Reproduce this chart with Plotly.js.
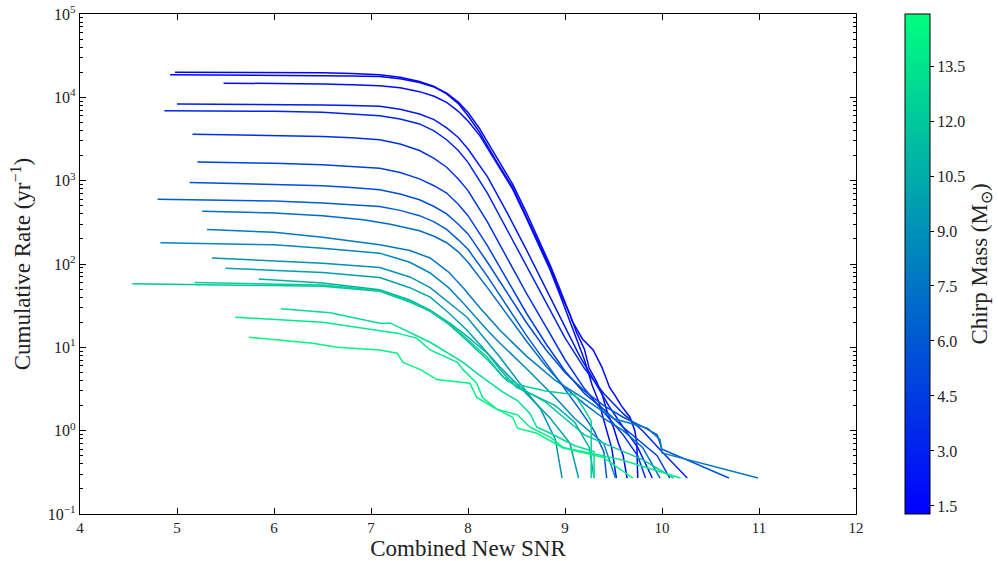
<!DOCTYPE html>
<html><head><meta charset="utf-8">
<script src="https://cdn.plot.ly/plotly-3.0.1.min.js"></script>
<style>html,body{margin:0;padding:0;background:#fff}#chart{width:998px;height:561px}</style>
</head><body><div id="chart"></div>
<script>
// Chirp mass of each curve (solar masses)
const chirpMass = [1.4, 1.6, 2.0, 2.6, 3.2, 3.9, 4.7, 5.5, 6.2, 7.0, 7.8, 8.5, 9.2, 9.9, 10.7, 12.4, 12.0, 13.2, 13.8, 14.5];

const snr1 = [4.98, 6.0, 6.5, 6.8, 7.09, 7.3, 7.5, 7.65, 7.78, 7.9, 8.0, 8.12, 8.3, 8.46, 8.6, 8.71, 8.85, 8.95, 9.05, 9.12, 9.2, 9.25, 9.32, 9.38, 9.44, 9.5, 9.55, 9.6, 9.64];
const rate1 = [20000, 19900, 19700, 19300, 18600, 17400, 15500, 13500, 11000, 8400, 6000, 3800, 1660, 830, 380, 200, 89, 45, 25, 15, 9.5, 5.6, 4.0, 2.8, 1.6, 1.1, 0.71, 0.5, 0.27];
const snr2 = [4.93, 6.0, 6.5, 6.8, 7.09, 7.3, 7.5, 7.65, 7.78, 7.9, 8.0, 8.12, 8.3, 8.46, 8.6, 8.71, 8.85, 8.95, 9.08, 9.18, 9.29, 9.38, 9.46, 9.52, 9.58, 9.67, 9.72, 9.74, 9.75];
const rate2 = [18700, 18500, 18200, 18000, 17800, 16700, 15100, 13300, 11200, 8800, 6600, 4200, 1860, 910, 420, 220, 95, 49, 20, 12.6, 9.3, 5.8, 3.3, 2.6, 2.0, 1.45, 1.0, 0.71, 0.27];
const snr3 = [5.48, 6.0, 6.5, 6.8, 7.09, 7.3, 7.5, 7.65, 7.78, 7.9, 8.0, 8.12, 8.3, 8.46, 8.6, 8.71, 8.85, 8.95, 9.05, 9.12, 9.2, 9.28, 9.35, 9.42, 9.48, 9.53];
const rate3 = [14800, 14700, 14500, 14200, 13800, 13000, 11700, 10300, 8700, 6800, 5200, 3500, 1580, 790, 360, 190, 83, 42, 21, 12.6, 7.1, 3.5, 2.2, 1.1, 0.63, 0.27];
const snr4 = [5.0, 6.0, 6.5, 6.8, 7.09, 7.3, 7.5, 7.65, 7.78, 7.9, 8.0, 8.2, 8.4, 8.6, 8.8, 9.0, 9.15, 9.3, 9.45, 9.6, 9.75, 9.9];
const rate4 = [8300, 8250, 8100, 8000, 7800, 7200, 6300, 5400, 4300, 3300, 2400, 1120, 420, 150, 52, 18, 7.9, 4.0, 2.0, 1.1, 0.63, 0.27];
const snr5 = [4.87, 6.0, 6.5, 6.8, 7.09, 7.3, 7.5, 7.65, 7.78, 7.9, 8.0, 8.2, 8.4, 8.6, 8.8, 9.0, 9.2, 9.4, 9.6, 9.8, 10.0, 10.26];
const rate5 = [6900, 6800, 6600, 6350, 6000, 5500, 4800, 3950, 3100, 2300, 1660, 710, 260, 95, 35, 13, 5.6, 2.8, 1.6, 1.0, 0.56, 0.27];
const snr6 = [5.16, 6.0, 6.5, 6.8, 7.09, 7.3, 7.5, 7.65, 7.78, 7.9, 8.0, 8.2, 8.4, 8.6, 8.8, 9.0, 9.2, 9.4, 9.6, 9.75, 9.83];
const rate6 = [3600, 3500, 3400, 3280, 3100, 2750, 2300, 1850, 1450, 1050, 760, 320, 120, 45, 18, 7.1, 3.2, 1.66, 0.89, 0.5, 0.27];
const snr7 = [5.21, 6.0, 6.5, 6.8, 7.09, 7.3, 7.5, 7.65, 7.78, 7.9, 8.0, 8.2, 8.4, 8.6, 8.8, 9.0, 9.2, 9.4, 9.6, 9.8, 9.95, 10.08];
const rate7 = [1670, 1620, 1550, 1480, 1410, 1250, 1050, 870, 710, 520, 380, 166, 66, 26, 11.2, 5.2, 2.8, 1.8, 1.1, 0.71, 0.5, 0.27];
const snr8 = [5.13, 6.0, 6.5, 6.8, 7.09, 7.3, 7.5, 7.65, 7.78, 7.9, 8.0, 8.2, 8.4, 8.6, 8.8, 9.0, 9.2, 9.4, 9.6, 9.8, 9.95, 10.0, 10.69];
const rate8 = [950, 910, 870, 830, 780, 690, 590, 490, 400, 300, 230, 105, 45, 20, 9.5, 5.0, 3.0, 2.0, 1.45, 1.12, 0.89, 0.6, 0.27];
const snr9 = [4.8, 6.0, 6.5, 6.8, 7.09, 7.3, 7.5, 7.65, 7.78, 7.9, 8.0, 8.2, 8.4, 8.6, 8.8, 9.0, 9.15, 9.3, 9.4, 9.43];
const rate9 = [600, 570, 540, 515, 490, 440, 380, 320, 260, 195, 150, 71, 32, 14, 6.6, 3.2, 1.8, 1.0, 0.56, 0.27];
const snr10 = [5.26, 6.0, 6.5, 6.92, 7.2, 7.5, 7.65, 7.78, 7.9, 8.0, 8.2, 8.4, 8.6, 8.8, 9.0, 9.2, 9.4, 9.6, 9.8, 9.98];
const rate10 = [430, 410, 380, 340, 300, 250, 215, 180, 140, 105, 52, 25, 12, 6.0, 3.3, 2.1, 1.4, 1.0, 0.63, 0.27];
const snr11 = [5.31, 6.0, 6.5, 7.09, 7.4, 7.61, 7.8, 7.95, 8.12, 8.33, 8.6, 8.9, 9.2, 9.5, 9.85, 9.98, 10.0, 10.99];
const rate11 = [260, 240, 210, 170, 145, 118, 80, 52, 30, 16, 7.9, 4.0, 2.4, 1.4, 1.07, 0.78, 0.54, 0.27];
const snr12 = [4.83, 6.0, 6.5, 7.09, 7.4, 7.61, 7.8, 7.95, 8.2, 8.33, 8.6, 8.9, 9.1, 9.3, 9.4, 9.52];
const rate12 = [180, 170, 155, 135, 105, 78, 52, 34, 16, 11.2, 5.6, 2.5, 1.4, 0.89, 0.7, 0.27];
const snr13 = [5.36, 6.5, 7.09, 7.4, 7.61, 7.8, 7.99, 8.33, 8.55, 8.75, 8.9, 8.97];
const rate13 = [118, 102, 91, 70, 52, 35, 23, 7.6, 3.5, 1.8, 0.79, 0.27];
const snr14 = [5.5, 6.5, 7.09, 7.4, 7.61, 7.8, 7.99, 8.33, 8.6, 8.85, 9.05, 9.14];
const rate14 = [89, 79, 69, 52, 40, 26, 16, 5.8, 2.8, 1.4, 0.71, 0.27];
const snr15 = [5.84, 6.5, 7.09, 7.4, 7.61, 7.8, 7.95, 8.2, 8.33, 8.5, 8.7, 8.9, 9.1, 9.25, 9.30];
const rate15 = [66, 59, 49, 37, 28, 20, 14.8, 8.5, 5.4, 3.3, 2.6, 2.0, 1.26, 0.63, 0.27];
const snr16 = [5.18, 6.5, 7.09, 7.4, 7.61, 7.8, 7.95, 8.2, 8.36, 8.54, 8.8, 9.1, 9.2, 9.27, 9.27];
const rate16 = [60, 56, 48, 36, 27.5, 19.5, 13.8, 7.6, 4.4, 3.5, 3.0, 2.7, 1.8, 1.3, 0.27];
const snr17 = [4.54, 6.5, 7.09, 7.4, 7.61, 7.8, 7.95, 8.2, 8.4, 8.6, 8.8, 9.0, 9.2, 9.5, 9.8, 10.12];
const rate17 = [58, 54, 47, 35, 27, 19, 13.2, 7.1, 4.0, 3.0, 2.2, 1.4, 0.89, 0.63, 0.45, 0.27];
const snr18 = [6.07, 6.58, 7.09, 7.2, 7.61, 7.95, 8.09, 8.23, 8.36, 8.51, 8.64, 8.71, 8.85, 9.1, 9.3, 9.3];
const rate18 = [29, 26, 19.5, 19.5, 11.5, 6.6, 4.9, 3.7, 2.9, 2.3, 1.6, 1.1, 0.93, 0.66, 0.56, 0.27];
const snr19 = [5.6, 6.5, 7.27, 7.47, 7.61, 7.89, 7.95, 8.09, 8.15, 8.30, 8.51, 8.64, 8.85, 8.98, 9.57, 10.19];
const rate19 = [23, 20, 14.8, 12.9, 9.3, 6.6, 5.4, 3.7, 2.5, 1.8, 1.55, 1.1, 0.83, 0.63, 0.45, 0.27];
const snr20 = [5.74, 6.4, 6.65, 7.09, 7.27, 7.33, 7.51, 7.68, 8.02, 8.09, 8.30, 8.46, 8.51, 8.71, 8.98, 9.39, 9.70];
const rate20 = [13.2, 11.2, 10, 9.3, 8.5, 6.6, 5.4, 4.1, 3.7, 2.5, 1.8, 1.45, 1.07, 0.93, 0.62, 0.48, 0.27];

const xTicks = [4, 5, 6, 7, 8, 9, 10, 11, 12];
const yTicks = [0.1, 1, 10, 100, 1000, 10000, 100000];
const yTickText = ['10<sup>−1</sup>', '10<sup>0</sup>', '10<sup>1</sup>', '10<sup>2</sup>', '10<sup>3</sup>', '10<sup>4</sup>', '10<sup>5</sup>'];
const cbTicks = [1.5, 3.0, 4.5, 6.0, 7.5, 9.0, 10.5, 12.0, 13.5];
const cbTickText = ['1.5', '3.0', '4.5', '6.0', '7.5', '9.0', '10.5', '12.0', '13.5'];

const series = [
  [snr1, rate1], [snr2, rate2], [snr3, rate3], [snr4, rate4], [snr5, rate5],
  [snr6, rate6], [snr7, rate7], [snr8, rate8], [snr9, rate9], [snr10, rate10],
  [snr11, rate11], [snr12, rate12], [snr13, rate13], [snr14, rate14], [snr15, rate15],
  [snr16, rate16], [snr17, rate17], [snr18, rate18], [snr19, rate19], [snr20, rate20]
];

const cmin = 1.28, cmax = 14.92;
const winterScale = [[0, 'rgb(0,0,255)'], [1, 'rgb(0,255,128)']];
function winter(m) {
  const f = Math.max(0, Math.min(1, (m - cmin) / (cmax - cmin)));
  return 'rgb(0,' + Math.round(255 * f) + ',' + Math.round(255 * (1 - f / 2)) + ')';
}

const FONT = 'Liberation Serif, Times New Roman, serif';
const traces = series.map((s, i) => ({
  type: 'scatter', mode: 'lines', x: s[0], y: s[1],
  line: {color: winter(chirpMass[i]), width: 1.5},
  hoverinfo: 'skip', showlegend: false
}));

// minor log ticks
const minorVals = [];
for (let e = -1; e < 5; e++) for (let k = 2; k <= 9; k++) minorVals.push(k * Math.pow(10, e));

traces.push({
  type: 'scatter', mode: 'markers', x: [4], y: [0.01], showlegend: false, hoverinfo: 'skip',
  marker: {
    size: 1, color: [cmin], cmin: cmin, cmax: cmax, colorscale: winterScale, showscale: true,
    colorbar: {
      x: 1.0631, xanchor: 'left', xpad: 0, y: 0.5, yanchor: 'middle', ypad: 0,
      len: 1, lenmode: 'fraction', thickness: 25, thicknessmode: 'pixels',
      outlinewidth: 1, outlinecolor: '#000',
      tickmode: 'array', tickvals: cbTicks, ticktext: cbTickText,
      ticks: 'outside', ticklen: 4, tickcolor: '#000',
      tickfont: {family: FONT, size: 16, color: '#222'},
      title: {text: 'Chirp Mass (M<sub>⊙</sub>)', side: 'right', font: {family: FONT, size: 23, color: '#222'}}
    }
  }
});

const layout = {
  width: 998, height: 561,
  margin: {l: 80, r: 142, t: 14, b: 47, autoexpand: false},
  paper_bgcolor: '#fff', plot_bgcolor: '#fff',
  font: {family: FONT, color: '#222'},
  xaxis: {
    range: [4, 12], tickmode: 'array', tickvals: xTicks, ticktext: xTicks.map(String),
    ticks: 'inside', ticklen: 6, tickcolor: '#000', mirror: 'allticks',
    showline: true, linecolor: '#000', linewidth: 1.2, showgrid: false, zeroline: false,
    tickfont: {family: FONT, size: 15, color: '#222'},
    title: {text: 'Combined New SNR', font: {family: FONT, size: 23, color: '#222'}, standoff: 6}
  },
  yaxis: {
    type: 'log', range: [-1, 5], tickmode: 'array', tickvals: yTicks, ticktext: yTickText,
    ticks: 'inside', ticklen: 6, tickcolor: '#000', mirror: 'allticks',
    showline: true, linecolor: '#000', linewidth: 1.2, showgrid: false, zeroline: false,
    minor: {tickmode: 'array', tickvals: minorVals, ticks: 'inside', ticklen: 3, tickcolor: '#000', showgrid: false},
    tickfont: {family: FONT, size: 16, color: '#222'},
    title: {text: 'Cumulative Rate (yr<sup>−1</sup>)', font: {family: FONT, size: 23, color: '#222'}, standoff: 10}
  }
};

Plotly.newPlot('chart', traces, layout, {displayModeBar: false, staticPlot: true});
</script>
</body></html>
